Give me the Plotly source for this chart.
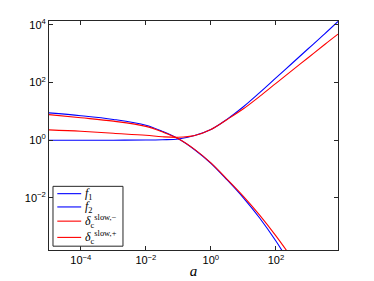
import plotly.graph_objects as go

# log10(a) sample points and log10(value)
lx_f1 = [-5, -4, -3, -2, -1.5, -1, -0.5, 0, 0.5, 1, 1.5, 2, 2.5, 3, 3.5, 3.91]
ly_f1 = [0.0, 0.0, 0.0, 0.005, 0.015, 0.04, 0.16, 0.37, 0.73, 1.16, 1.65, 2.16, 2.67, 3.18, 3.69, 4.12]

lx_f2 = [-5, -4, -3, -2, -1.5, -1, -0.5, 0, 0.5, 1, 1.5, 2, 2.5]
ly_f2 = [0.95, 0.85, 0.72, 0.52, 0.31, 0.05, -0.33, -0.80, -1.38, -2.0, -2.7, -3.5, -4.4]

lx_dm = [-5, -4, -3, -2, -1.5, -1, -0.5, 0, 0.5, 1, 1.5, 2, 2.5]
ly_dm = [0.89, 0.78, 0.66, 0.48, 0.29, 0.05, -0.32, -0.79, -1.36, -1.95, -2.60, -3.32, -4.1]

lx_dp = [-5, -4, -3, -2, -1.5, -1, -0.5, 0, 0.5, 1, 1.5, 2, 2.5, 3, 3.5, 3.91]
ly_dp = [0.36, 0.31, 0.24, 0.17, 0.12, 0.10, 0.16, 0.37, 0.72, 1.09, 1.52, 1.97, 2.42, 2.87, 3.32, 3.68]

x_tickvals = [1e-4, 1e-2, 1, 1e2]
x_ticktext = ["10<sup>−4</sup>", "10<sup>−2</sup>", "10<sup>0</sup>", "10<sup>2</sup>"]
y_tickvals = [1e-2, 1, 1e2, 1e4]
y_ticktext = ["10<sup>−2</sup>", "10<sup>0</sup>", "10<sup>2</sup>", "10<sup>4</sup>"]

names = ["<i>f</i><sub>1</sub>", "<i>f</i><sub>2</sub>",
         "<i>δ</i><sub>c</sub><sup>slow,−</sup>", "<i>δ</i><sub>c</sub><sup>slow,+</sup>"]
colors = ["#0000ff", "#0000ff", "#ff0000", "#ff0000"]
series = [(lx_f1, ly_f1), (lx_f2, ly_f2), (lx_dm, ly_dm), (lx_dp, ly_dp)]

fig = go.Figure()
for (lx, ly), nm, c in zip(series, names, colors):
    fig.add_trace(go.Scatter(
        x=[10 ** v for v in lx], y=[10 ** v for v in ly], mode="lines", name=nm,
        showlegend=False,
        line=dict(color=c, width=1.1, shape="spline", smoothing=1.0)))

axis_common = dict(type="log", showgrid=False, automargin=False,
                   zeroline=False, showline=True, linecolor="#262626", linewidth=1,
                   mirror="ticks", ticks="inside", ticklen=4, tickcolor="#262626",
                   tickfont=dict(family="Liberation Sans, Arial", size=11, color="#000"))

fig.update_xaxes(range=[-4.98, 3.91], tickvals=x_tickvals, ticktext=x_ticktext,
                 title=dict(text="<i>a</i>", standoff=0,
                            font=dict(family="Liberation Serif, DejaVu Serif", size=15, color="#000")),
                 **axis_common)
fig.update_yaxes(range=[-3.81, 4.135], tickvals=y_tickvals, ticktext=y_ticktext, **axis_common)

# legend drawn by hand (box, line samples, labels) in axis-domain coordinates
leg_box = dict(x0=0.0138, x1=0.256, y0=0.0167, y1=0.278)
leg_rows = [0.246, 0.188, 0.126, 0.055]
fig.add_shape(type="rect", xref="x domain", yref="y domain", **leg_box,
              line=dict(color="#262626", width=1), fillcolor="white", layer="above")
for yr, nm, c in zip(leg_rows, names, colors):
    fig.add_shape(type="line", xref="x domain", yref="y domain",
                  x0=0.0287, x1=0.1114, y0=yr, y1=yr,
                  line=dict(color=c, width=1.1), layer="above")
    fig.add_annotation(xref="x domain", yref="y domain", x=0.117, y=yr,
                       xanchor="left", yanchor="middle", text=nm, showarrow=False,
                       font=dict(family="Liberation Serif, DejaVu Serif", size=12, color="#000"))

# the page body has an 8px margin, so the figure is drawn 8px smaller and offset
fig.update_layout(
    width=366, height=273,
    margin=dict(l=41, r=36, t=13, b=31, pad=0),
    paper_bgcolor="white", plot_bgcolor="white",
    showlegend=False,
)

fig.write_html("out.html")
